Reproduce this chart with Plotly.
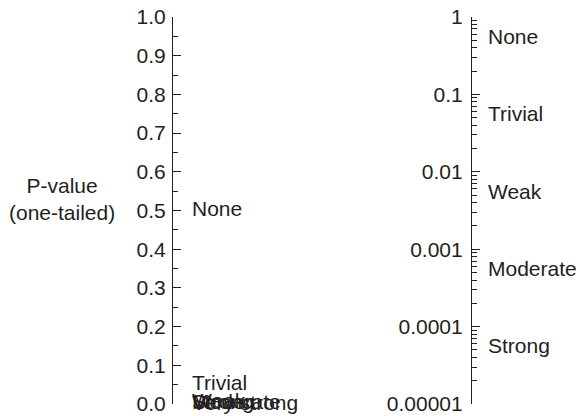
import numpy as np
import plotly.graph_objects as go

# Evidence categories and their p-value thresholds
categories = ["None", "Trivial", "Weak", "Moderate", "Strong", "Very strong"]
p_values = [0.5, 0.05, 0.005, 0.0005, 0.00005, 0.000005]

# Left (linear) axis ticks
lin_tickvals = [0.0, 0.1, 0.2, 0.3, 0.4, 0.5, 0.6, 0.7, 0.8, 0.9, 1.0]
lin_ticktext = ["0.0", "0.1", "0.2", "0.3", "0.4", "0.5", "0.6", "0.7", "0.8", "0.9", "1.0"]

# Right (log) axis ticks
log_tickvals = [1, 0.1, 0.01, 0.001, 0.0001, 0.00001]
log_ticktext = ["1", "0.1", "0.01", "0.001", "0.0001", "0.00001"]
log_minor = [m * 10.0 ** e for e in range(-5, 0) for m in range(2, 10)]

axis_title = "P-value<br>(one-tailed)"

FONT = "Liberation Sans, Arial, Helvetica, sans-serif"
INK = "#231f20"
FS = 21

fig = go.Figure()
# invisible traces so both subplots exist
fig.add_trace(go.Scatter(x=[], y=[], xaxis="x", yaxis="y", showlegend=False))
fig.add_trace(go.Scatter(x=[], y=[], xaxis="x2", yaxis="y2", showlegend=False))

common_y = dict(
    showline=True, linecolor=INK, linewidth=1.2, mirror=False,
    ticks="inside", ticklen=8, tickwidth=1.2, tickcolor=INK,
    showgrid=False, zeroline=False,
    tickfont=dict(family=FONT, size=FS, color=INK),
    tickmode="array",
)

fig.update_layout(
    width=580, height=416,
    margin=dict(l=0, r=0, t=17, b=12),
    paper_bgcolor="white", plot_bgcolor="white",
    showlegend=False,
    xaxis=dict(domain=[0.2983, 0.56], range=[0, 1], visible=False),
    xaxis2=dict(domain=[0.8138, 1.0], range=[0, 1], visible=False),
    yaxis=dict(
        anchor="x", range=[0, 1], tickvals=lin_tickvals, ticktext=lin_ticktext,
        ticklabelstandoff=2,
        minor=dict(ticks="inside", ticklen=5, tickwidth=1.2, tickcolor=INK, dtick=0.05, showgrid=False),
        **common_y,
    ),
    yaxis2=dict(
        anchor="x2", type="log", range=[-5, 0], tickvals=log_tickvals, ticktext=log_ticktext,
        ticklabelstandoff=4,
        minor=dict(ticks="inside", ticklen=5, tickwidth=1.2, tickcolor=INK,
                   tickmode="array", tickvals=log_minor, showgrid=False),
        **common_y,
    ),
)

annotations = []
for cat, p in zip(categories, p_values):
    annotations.append(dict(
        x=0, y=p, xref="x", yref="y", text=cat, showarrow=False,
        xanchor="left", yanchor="middle", xshift=17, yshift=2,
        font=dict(family=FONT, size=FS, color=INK),
    ))
    if p >= 1e-5:
        annotations.append(dict(
            x=0, y=np.log10(p), xref="x2", yref="y2", text=cat, showarrow=False,
            xanchor="left", yanchor="middle", xshift=14, yshift=4,
            font=dict(family=FONT, size=FS, color=INK),
        ))

annotations.append(dict(
    x=0.107, y=0.53, xref="paper", yref="y", text=axis_title, showarrow=False,
    xanchor="center", yanchor="middle", align="center",
    font=dict(family=FONT, size=FS, color=INK),
))
fig.update_layout(annotations=annotations)

fig.write_html("out.html")
